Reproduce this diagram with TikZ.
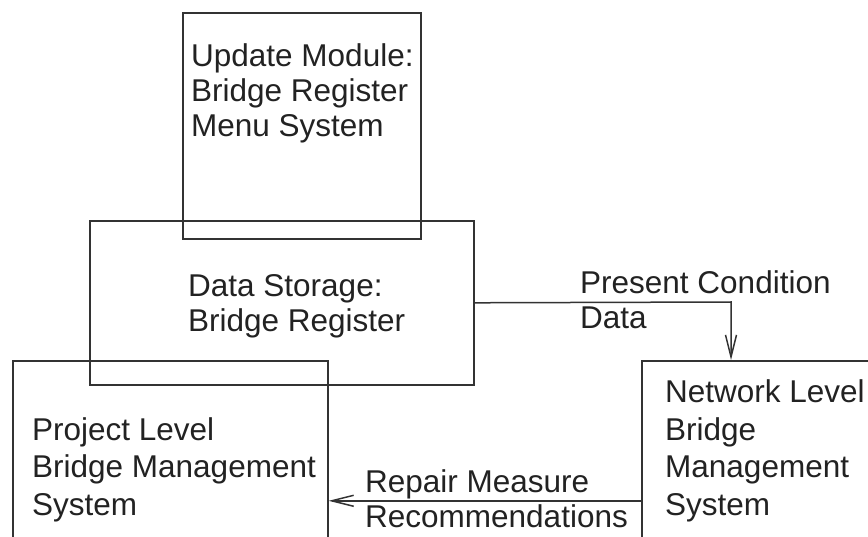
\documentclass[tikz,border=0pt]{standalone}
\usepackage{fontspec}
\setmainfont{Liberation Sans}
\usetikzlibrary{arrows.meta}
\definecolor{ink}{HTML}{222222}
\definecolor{rule}{HTML}{333333}
\begin{document}
\begin{tikzpicture}[x=1pt,y=-1pt,
  box/.style={draw=rule,line width=1.6pt,inner sep=0pt,anchor=north west},
  label/.style={anchor=base west,inner sep=0pt,align=left,text=ink,
    font=\fontsize{31.5}{35}\selectfont},
  arr/.style={draw=rule,line width=1.5pt,-{Straight Barb[length=22pt,width=11pt,line width=1.5pt]}}]
  \useasboundingbox (0,0) rectangle (868,537);
  \clip (0,0) rectangle (868,537);
  % boxes
  \node[box,minimum width=238pt,minimum height=226pt] (up) at (182,12) {};
  \node[box,minimum width=384pt,minimum height=164pt] (ds) at (89,220) {};
  \node[box,minimum width=315pt,minimum height=280pt] (pj) at (12,360) {};
  \node[box,minimum width=320pt,minimum height=280pt] (nw) at (641,360) {};
  % texts (anchored at the baseline of their last line)
  \node[label] (tup) at (191,137) {Update Module:\\Bridge Register\\Menu System};
  \node[label] (tds) at (188,332) {Data Storage:\\Bridge Register};
  \node[label] (tpc) at (580,329) {Present Condition\\Data};
  \node[label] (trm) at (365,527) {Repair Measure\\Recommendations};
  \node[label,font=\fontsize{31.5}{37.5}\selectfont] (tpj) at (32,515) {Project Level\\Bridge Management\\System};
  \node[label,font=\fontsize{31.5}{37.5}\selectfont] (tnw) at (665,515) {Network Level\\Bridge\\Management\\System};
  % connectors
  \coordinate (drop) at (731,302);
  \draw[arr] (ds.east) -- (drop) -- (drop |- nw.north);
  \draw[arr] (nw.west) -- (pj.east);
\end{tikzpicture}
\end{document}
